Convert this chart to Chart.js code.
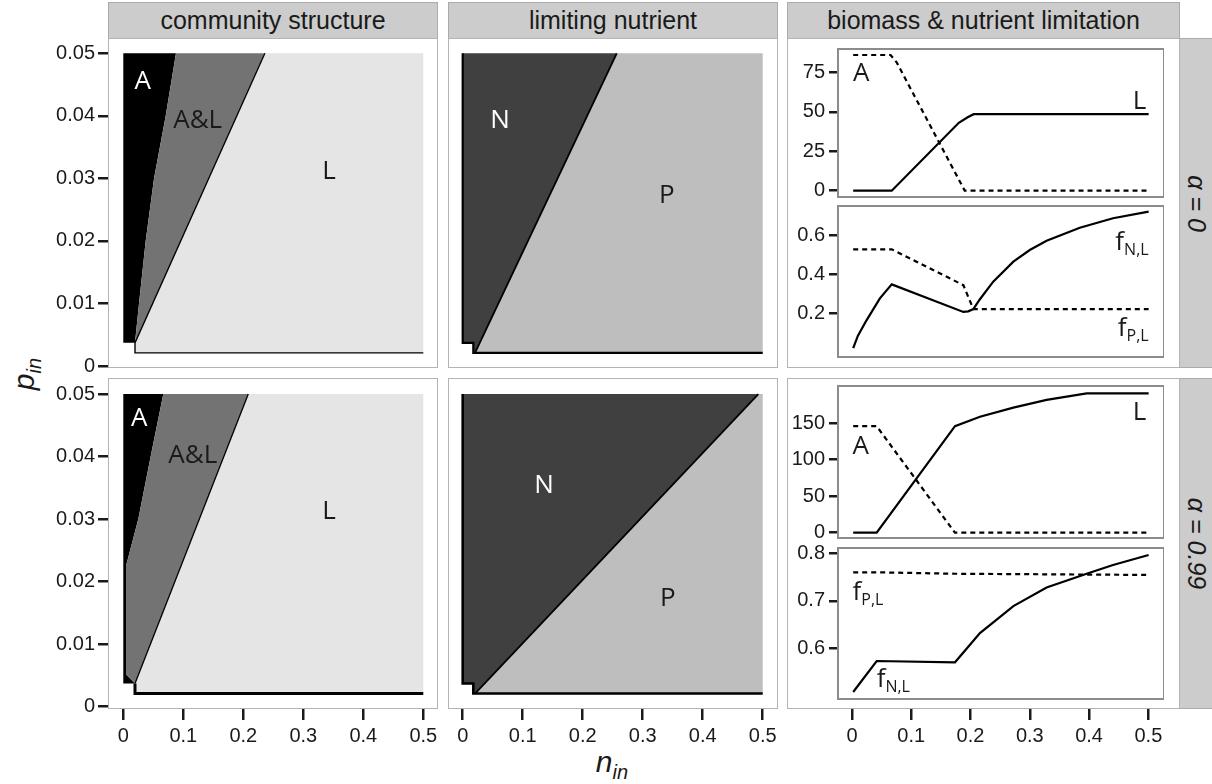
<!DOCTYPE html>
<html>
<head>
<meta charset="utf-8">
<title>community structure and nutrient limitation</title>
<script src="https://cdn.jsdelivr.net/npm/chart.js@4"></script>
<style>
  body { margin: 0; width: 1212px; height: 784px; position: relative; overflow: hidden; background: #fff;
         font-family: "Liberation Sans", Arial, sans-serif; color: #1a1a1a; }
  .strip { position: absolute; box-sizing: border-box; background: #cccccc; border: 1px solid #ababab;
           display: flex; align-items: center; justify-content: center; font-size: 25px; white-space: nowrap; }
  .panel { position: absolute; box-sizing: border-box; border: 1px solid #b3b3b3; }
  .rot { transform: rotate(90deg); font-style: italic; font-size: 25px; }
  canvas { position: absolute; }
  .axt { position: absolute; white-space: nowrap; font-style: italic; font-size: 30px; }
  .axt sub { font-size: 20px; vertical-align: -7px; }
</style>
</head>
<body>
<div class="strip" style="left:108px;top:2px;width:330px;height:37px">community structure</div>
<div class="strip" style="left:448px;top:2px;width:330px;height:37px">limiting nutrient</div>
<div class="strip" style="left:787px;top:2px;width:393px;height:37px">biomass &amp; nutrient limitation</div>
<div class="strip" style="left:1179px;top:38px;width:35px;height:330px"><span class="rot">α = 0</span></div>
<div class="strip" style="left:1179px;top:378px;width:35px;height:331px"><span class="rot">α = 0.99</span></div>

<div class="panel" style="left:108px;top:38px;width:330px;height:330px"></div>
<div class="panel" style="left:448px;top:38px;width:330px;height:330px"></div>
<div class="panel" style="left:787px;top:38px;width:393px;height:330px"></div>
<div class="panel" style="left:108px;top:378px;width:330px;height:331px"></div>
<div class="panel" style="left:448px;top:378px;width:330px;height:331px"></div>
<div class="panel" style="left:787px;top:378px;width:393px;height:331px"></div>

<div class="axt" style="left:26px;top:374px;transform:translate(-50%,-50%) rotate(-90deg)">p<sub>in</sub></div>
<div class="axt" style="left:612px;top:764px;transform:translate(-50%,-50%)">n<sub>in</sub></div>

<script>
// ticks
const xTicks = [0, 0.1, 0.2, 0.3, 0.4, 0.5];
const xTickLabels = ['0', '0.1', '0.2', '0.3', '0.4', '0.5'];
const pTicks = [0, 0.01, 0.02, 0.03, 0.04, 0.05];
const pTickLabels = ['0', '0.01', '0.02', '0.03', '0.04', '0.05'];
const bioTicks_0 = [0, 25, 50, 75];
const bioTickLabels_0 = ['0', '25', '50', '75'];
const fTicks_0 = [0.2, 0.4, 0.6];
const fTickLabels_0 = ['0.2', '0.4', '0.6'];
const bioTicks_99 = [0, 50, 100, 150];
const bioTickLabels_99 = ['0', '50', '100', '150'];
const fTicks_99 = [0.6, 0.7, 0.8];
const fTickLabels_99 = ['0.6', '0.7', '0.8'];

// grid limits of the (n_in, p_in) plane
const pTop = 0.05, nRight = 0.5;
const pLowA = 0.0037;   // lowest p_in with A
const pLow = 0.0021;    // lowest p_in with L
const nStep = 0.0177;   // step in the lower left corner

// community structure: A | A&L edge and A&L | L edge  [n_in, p_in]
const commA_0 = [[0.0195, 0.0037], [0.0262, 0.01], [0.0373, 0.02], [0.0512, 0.03], [0.0707, 0.04], [0.0878, 0.05]];
const commL_0 = [[0.0195, 0.0037], [0.236, 0.05]];
const commA_99 = [[0.0195, 0.0037], [0.0045, 0.0052], [0.0045, 0.0225], [0.025, 0.03], [0.0456, 0.04], [0.0667, 0.05]];
const commL_99 = [[0.0195, 0.0037], [0.2083, 0.05]];

// limiting nutrient: N | P edge
const limNP_0 = [[0.0205, 0.0021], [0.2567, 0.05]];
const limNP_99 = [[0.0205, 0.0021], [0.4927, 0.05]];

// biomass, alpha = 0
const bioAx_0 = [0.002, 0.065, 0.0753, 0.19, 0.5];
const bioA_0 = [86, 86, 81.3, 0, 0];
const bioLx_0 = [0.002, 0.067, 0.18, 0.195, 0.205, 0.5];
const bioL_0 = [0, 0, 43, 46.5, 48.5, 48.5];
// nutrient limitation, alpha = 0
const fNx_0 = [0.002, 0.01, 0.0247, 0.047, 0.067, 0.1877, 0.196, 0.2045, 0.215, 0.238, 0.272, 0.2996, 0.328, 0.384, 0.44, 0.5];
const fN_0 = [0.02, 0.085, 0.165, 0.277, 0.349, 0.207, 0.21, 0.222, 0.27, 0.363, 0.466, 0.526, 0.574, 0.641, 0.69, 0.724];
const fPx_0 = [0.002, 0.067, 0.1877, 0.2045, 0.5];
const fP_0 = [0.53, 0.53, 0.345, 0.222, 0.222];

// biomass, alpha = 0.99
const bioAx_99 = [0.002, 0.0416, 0.1736, 0.5];
const bioA_99 = [146, 146, 0, 0];
const bioLx_99 = [0.002, 0.0416, 0.1736, 0.2157, 0.272, 0.328, 0.3956, 0.5];
const bioL_99 = [0, 0, 146, 159, 171.5, 182, 191, 191];
// nutrient limitation, alpha = 0.99
const fNx_99 = [0.002, 0.0416, 0.1736, 0.2157, 0.272, 0.328, 0.398, 0.44, 0.5];
const fN_99 = [0.508, 0.5733, 0.5705, 0.632, 0.689, 0.728, 0.758, 0.7754, 0.7964];
const fPx_99 = [0.002, 0.0416, 0.1736, 0.5];
const fP_99 = [0.76, 0.76, 0.757, 0.7545];

const ink = '#1a1a1a';
const tickFont = { family: '"Liberation Sans", Arial, sans-serif', size: 20 };
const noteFont = '"Open Sans", "Liberation Sans", sans-serif';

function pts(arr) { return arr.map(p => ({ x: p[0], y: p[1] })); }
function xy(xs, ys) { return xs.map((x, i) => ({ x: x, y: ys[i] })); }

function addCanvas(left, top, w, h) {
    const c = document.createElement('canvas');
    c.width = w; c.height = h;
    c.style.left = left + 'px';
    c.style.top = top + 'px';
    document.body.appendChild(c);
    return c.getContext('2d');
}

// one axis with fixed ticks; size = width (y) or height (x) it takes up
function axis(o) {
    return {
        type: 'linear', bounds: 'data', min: o.min, max: o.max, display: o.show,
        afterBuildTicks: s => { s.ticks = o.ticks.map(v => ({ value: v })); },
        afterFit: s => {
            const size = o.show ? o.size : 0;
            if (o.horizontal) s.height = size; else s.width = size;
            s.paddingLeft = 0; s.paddingRight = 0; s.paddingTop = 0; s.paddingBottom = 0;
        },
        ticks: {
            autoSkip: false, maxRotation: 0, minRotation: 0, padding: o.pad,
            color: ink, font: tickFont, callback: (v, i) => o.labels[i]
        },
        grid: {
            drawOnChartArea: false, drawTicks: true, tickLength: o.tickLen,
            tickWidth: 2.5, tickColor: ink, lineWidth: 2.5, color: ink
        },
        border: { display: false }
    };
}

function poly(points, color) {
    return { data: pts(points), fill: 'shape', backgroundColor: color, borderWidth: 0, pointRadius: 0, order: 2 };
}
function edge(points, width) {
    return { data: pts(points), fill: false, borderColor: '#000', borderWidth: width, pointRadius: 0, order: 1 };
}
function curve(xs, ys, dashed) {
    return {
        data: xy(xs, ys), fill: false, borderColor: '#000', borderWidth: 2.2, pointRadius: 0,
        borderDash: dashed ? [5, 4] : [], order: 1
    };
}

// text written into a panel at data positions
function notesPlugin(notes) {
    return {
        id: 'notes',
        afterDatasetsDraw(chart) {
            const c = chart.ctx, sx = chart.scales.x, sy = chart.scales.y;
            c.save();
            notes.forEach(n => {
                const px = sx.getPixelForValue(n.x), py = sy.getPixelForValue(n.y);
                const size = n.size || 26;
                c.fillStyle = n.color || ink;
                c.font = size + 'px ' + noteFont;
                if (!n.sub) {
                    c.textAlign = n.align || 'center';
                    c.textBaseline = n.baseline || 'middle';
                    c.fillText(n.text, px, py);
                    return;
                }
                const w1 = c.measureText(n.text).width;
                c.font = '16px ' + noteFont;
                const w2 = c.measureText(n.sub).width;
                const x0 = n.align === 'right' ? px - w1 - w2 : px;
                c.textAlign = 'left';
                c.textBaseline = 'alphabetic';
                c.font = size + 'px ' + noteFont;
                c.fillText(n.text, x0, py);
                c.font = '16px ' + noteFont;
                c.fillText(n.sub, x0 + w1, py + 5);
            });
            c.restore();
        }
    };
}

const framePlugin = {
    id: 'frame',
    afterDatasetsDraw(chart) {
        const a = chart.chartArea, c = chart.ctx;
        c.save();
        c.strokeStyle = '#8c8c8c';
        c.lineWidth = 2;
        c.strokeRect(a.left, a.top, a.right - a.left, a.bottom - a.top);
        c.restore();
    }
};

// padTop / padBottom: room outside the plot area for tick labels at the edges
function makeChart(left, top, w, h, padTop, padBottom, xAxis, yAxis, datasets, plugins) {
    const ctx = addCanvas(left, top - padTop, w, h + padTop + padBottom);
    return new Chart(ctx, {
        type: 'line',
        data: { datasets: datasets },
        options: {
            responsive: false, animation: false, events: [],
            layout: { padding: { top: padTop, bottom: padBottom, left: 0, right: 0 } },
            elements: { line: { tension: 0 } },
            plugins: { legend: { display: false }, tooltip: { enabled: false } },
            scales: { x: xAxis, y: yAxis }
        },
        plugins: plugins
    });
}

// panel geometry
const rows = [
    { top: 38, h: 330, pMin: -0.00032, pMax: 0.05245 },
    { top: 378, h: 331, pMin: -0.00037, pMax: 0.05256 }
];
const xAxisH = 50;

function regionX(min, max, show) {
    return axis({ min: min, max: max, show: show, horizontal: true, size: xAxisH, ticks: xTicks, labels: xTickLabels, tickLen: 11, pad: 4 });
}

// community structure
function commPanel(r, aEdge, lEdge, bottomW, notes) {
    const row = rows[r], last = r === 1;
    const A = [[0, pTop], [0, pLowA]].concat(aEdge);
    const AL = aEdge.concat(lEdge.slice().reverse());
    const L = lEdge.concat([[nRight, pTop], [nRight, pLow], [lEdge[0][0], pLow]]);
    const bottom = [lEdge[0], [lEdge[0][0], pLow], [nRight, pLow]];
    makeChart(0, row.top, 438, row.h + (last ? xAxisH : 0), 0, last ? 0 : 12,
        regionX(-0.0255, 0.5245, last),
        axis({ min: row.pMin, max: row.pMax, show: true, size: 108, ticks: pTicks, labels: pTickLabels, tickLen: 10, pad: 3 }),
        [poly(L, '#e5e5e5'), poly(AL, '#737373'), poly(A, '#000000'), edge(lEdge, 1.3), edge(bottom, bottomW)],
        [notesPlugin(notes)]);
}

// limiting nutrient
function limPanel(r, npEdge, outlineW, notes) {
    const row = rows[r], last = r === 1;
    const N = [[0, pTop], [0, pLowA], [nStep, pLowA], [nStep, pLow]].concat(npEdge);
    const P = npEdge.concat([[nRight, pTop], [nRight, pLow], [nStep, pLow]]);
    const outline = [[0, pTop], [0, pLowA], [nStep, pLowA], [nStep, pLow], [nRight, pLow]];
    makeChart(448, row.top, 329, row.h + (last ? xAxisH : 0), 0, 0,
        regionX(-0.0245, 0.5238, last),
        axis({ min: row.pMin, max: row.pMax, show: false, size: 0, ticks: pTicks, labels: pTickLabels, tickLen: 10, pad: 3 }),
        [poly(P, '#bebebe'), poly(N, '#404040'), edge(npEdge, 1.8), edge(outline, outlineW)],
        [notesPlugin(notes)]);
}

commPanel(0, commA_0, commL_0, 1.4, [
    { text: 'A', x: 0.0323, y: 0.0455, color: '#ffffff' },
    { text: 'A&L', x: 0.124, y: 0.0393 },
    { text: 'L', x: 0.343, y: 0.0311 }
]);
commPanel(1, commA_99, commL_99, 3, [
    { text: 'A', x: 0.0267, y: 0.0461, color: '#ffffff' },
    { text: 'A&L', x: 0.1157, y: 0.0401 },
    { text: 'L', x: 0.343, y: 0.0312 }
]);
limPanel(0, limNP_0, 2.2, [
    { text: 'N', x: 0.0622, y: 0.0393, color: '#ffffff' },
    { text: 'P', x: 0.34, y: 0.0273 }
]);
limPanel(1, limNP_99, 2.6, [
    { text: 'N', x: 0.1355, y: 0.0354, color: '#ffffff' },
    { text: 'P', x: 0.3417, y: 0.0173 }
]);

// biomass & nutrient limitation: two stacked sub-panels per row
function subPanel(top, h, yMin, yMax, ticks, labels, datasets, notes) {
    makeChart(787, top, 377, h, 12, 12,
        axis({ min: -0.0236, max: 0.5259, show: false, horizontal: true, size: 0, ticks: xTicks, labels: xTickLabels, tickLen: 0, pad: 0 }),
        axis({ min: yMin, max: yMax, show: true, size: 51, ticks: ticks, labels: labels, tickLen: 9, pad: 4 }),
        datasets, [framePlugin, notesPlugin(notes)]);
}

subPanel(49, 148, -4, 89.8, bioTicks_0, bioTickLabels_0,
    [curve(bioAx_0, bioA_0, true), curve(bioLx_0, bioL_0, false)],
    [{ text: 'A', x: 0.0015, y: 69.8, align: 'left', baseline: 'alphabetic' },
     { text: 'L', x: 0.496, y: 52, align: 'right', baseline: 'alphabetic' }]);
subPanel(206, 151, -0.0253, 0.7531, fTicks_0, fTickLabels_0,
    [curve(fPx_0, fP_0, true), curve(fNx_0, fN_0, false)],
    [{ text: 'f', sub: 'N,L', x: 0.5, y: 0.526, align: 'right' },
     { text: 'f', sub: 'P,L', x: 0.5, y: 0.083, align: 'right' }]);
subPanel(386, 152, -7.27, 201.1, bioTicks_99, bioTickLabels_99,
    [curve(bioAx_99, bioA_99, true), curve(bioLx_99, bioL_99, false)],
    [{ text: 'A', x: 0.001, y: 107.9, align: 'left', baseline: 'alphabetic' },
     { text: 'L', x: 0.496, y: 154.5, align: 'right', baseline: 'alphabetic' }]);
subPanel(548, 151, 0.4933, 0.8112, fTicks_99, fTickLabels_99,
    [curve(fPx_99, fP_99, true), curve(fNx_99, fN_99, false)],
    [{ text: 'f', sub: 'P,L', x: 0.001, y: 0.7017, align: 'left' },
     { text: 'f', sub: 'N,L', x: 0.0416, y: 0.519, align: 'left' }]);

// shared n_in axis under the third column
makeChart(787, rows[1].top, 392, rows[1].h + xAxisH, 0, 0,
    regionX(-0.1096, 0.5517, true),
    axis({ min: 0, max: 1, show: false, size: 0, ticks: [], labels: [], tickLen: 0, pad: 0 }),
    [], []);
</script>
</body>
</html>
